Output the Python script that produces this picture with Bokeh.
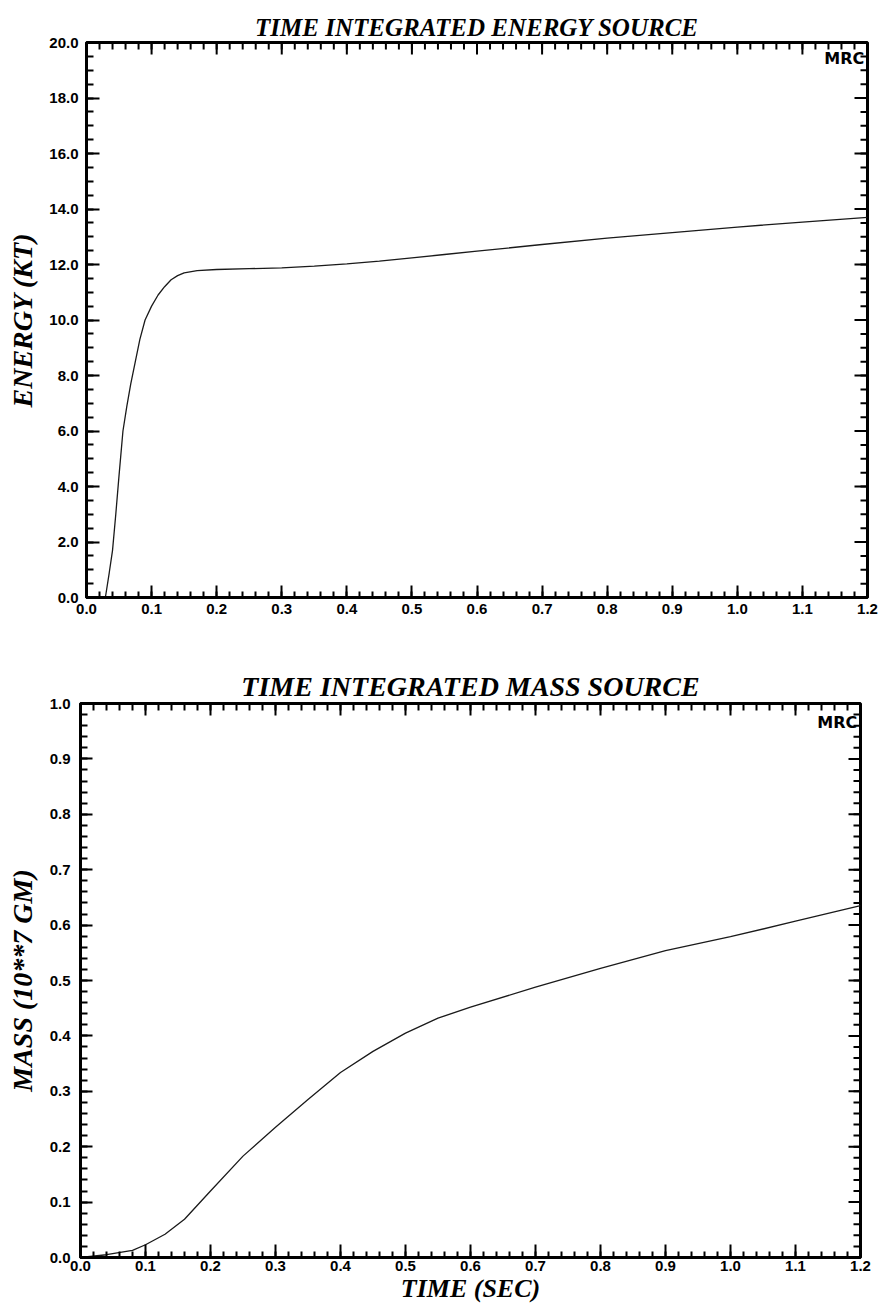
import math
from bokeh.plotting import figure
from bokeh.models import Range1d, FixedTicker, Label
from bokeh.layouts import column, row
from bokeh.embed import file_html
from bokeh.resources import INLINE

# ---------------- data ----------------
energy_time = [0.029, 0.035, 0.040, 0.045, 0.050, 0.056, 0.062, 0.068, 0.075, 0.082,
               0.090, 0.100, 0.110, 0.120, 0.130, 0.140, 0.150, 0.170, 0.200, 0.250,
               0.300, 0.350, 0.400, 0.450, 0.500, 0.550, 0.600, 0.700, 0.800, 0.900,
               1.000, 1.100, 1.200]
energy_kt = [0.0, 0.9, 1.7, 3.0, 4.4, 6.0, 6.9, 7.7, 8.5, 9.3,
             10.0, 10.5, 10.9, 11.2, 11.45, 11.6, 11.7, 11.78, 11.82, 11.85,
             11.88, 11.94, 12.02, 12.12, 12.24, 12.36, 12.48, 12.72, 12.95, 13.15,
             13.35, 13.53, 13.7]

mass_time = [0.0, 0.04, 0.08, 0.10, 0.13, 0.16, 0.20, 0.25, 0.30, 0.35, 0.40,
             0.45, 0.50, 0.55, 0.60, 0.70, 0.80, 0.90, 1.00, 1.10, 1.20]
mass_gm7 = [0.0, 0.005, 0.013, 0.023, 0.042, 0.069, 0.120, 0.183, 0.235, 0.285, 0.334,
            0.372, 0.405, 0.432, 0.452, 0.488, 0.522, 0.554, 0.579, 0.607, 0.635]

x_ticks = [0.0, 0.1, 0.2, 0.3, 0.4, 0.5, 0.6, 0.7, 0.8, 0.9, 1.0, 1.1, 1.2]
x_labels = ["0.0", "0.1", "0.2", "0.3", "0.4", "0.5", "0.6", "0.7", "0.8", "0.9", "1.0", "1.1", "1.2"]
e_ticks = [0, 2, 4, 6, 8, 10, 12, 14, 16, 18, 20]
e_labels = ["0.0", "2.0", "4.0", "6.0", "8.0", "10.0", "12.0", "14.0", "16.0", "18.0", "20.0"]
m_ticks = [0.0, 0.1, 0.2, 0.3, 0.4, 0.5, 0.6, 0.7, 0.8, 0.9, 1.0]
m_labels = ["0.0", "0.1", "0.2", "0.3", "0.4", "0.5", "0.6", "0.7", "0.8", "0.9", "1.0"]

x_minor = [round(i * 0.02, 4) for i in range(61)]
e_minor = [round(i * 0.5, 4) for i in range(41)]
m_minor = [round(i * 0.02, 4) for i in range(51)]

SERIF = "Liberation Serif"
SANS = "Liberation Sans"


def style_axis(ax, ticks, minor, labels, major_in, minor_in, standoff):
    ax.ticker = FixedTicker(ticks=ticks, minor_ticks=minor)
    ax.axis_line_width = 3
    ax.axis_line_color = "black"
    ax.major_tick_in = major_in
    ax.major_tick_out = 0
    ax.minor_tick_in = minor_in
    ax.minor_tick_out = 0
    ax.major_tick_line_width = 2
    ax.minor_tick_line_width = 2
    ax.major_tick_line_color = "black"
    ax.minor_tick_line_color = "black"
    ax.major_label_overrides = {t: l for t, l in zip(ticks, labels)}
    ax.major_label_text_font = SANS
    ax.major_label_text_font_style = "bold"
    ax.major_label_text_font_size = "15px"
    ax.major_label_text_color = "black"
    ax.major_label_standoff = standoff


def edge_ticks(p, xt, xm, yt, ym, xmax, ymax, xmaj, xmin, ymaj, ymin):
    # inward tick marks along the top and right edges of the frame
    p.ray(x=xt, y=[ymax] * len(xt), length=xmaj, length_units="screen",
          angle=-math.pi / 2, line_color="black", line_width=2)
    p.ray(x=xm, y=[ymax] * len(xm), length=xmin, length_units="screen",
          angle=-math.pi / 2, line_color="black", line_width=2)
    p.ray(x=[xmax] * len(yt), y=yt, length=ymaj, length_units="screen",
          angle=math.pi, line_color="black", line_width=2)
    p.ray(x=[xmax] * len(ym), y=ym, length=ymin, length_units="screen",
          angle=math.pi, line_color="black", line_width=2)


def make_fig(title, ymax, ylabel, fw, fh, borders, title_size, ylabel_size):
    p = figure(frame_width=fw, frame_height=fh, output_backend="svg", toolbar_location=None,
               x_range=Range1d(0, 1.2), y_range=Range1d(0, ymax),
               min_border_left=borders[0], min_border_right=borders[1],
               min_border_top=borders[2], min_border_bottom=borders[3])
    p.grid.visible = False
    p.outline_line_color = "black"
    p.outline_line_width = 3
    p.background_fill_color = "white"
    p.border_fill_color = "white"
    p.title.text = title
    p.title.align = "center"
    p.title.text_font = SERIF
    p.title.text_font_style = "bold italic"
    p.title.text_font_size = title_size
    p.title.text_color = "black"
    p.title.standoff = 4
    ly = p.left[0]
    ly.axis_label = ylabel
    ly.axis_label_text_font = SERIF
    ly.axis_label_text_font_style = "bold italic"
    ly.axis_label_text_font_size = ylabel_size
    ly.axis_label_text_color = "black"
    return p, p.below[0], ly


# ---------------- top: energy ----------------
p1, bx1, ly1 = make_fig("TIME INTEGRATED ENERGY SOURCE", 20, "ENERGY (KT)",
                        781, 555, (86, 17, 42, 24), "25px", "28px")
style_axis(bx1, x_ticks, x_minor, x_labels, 12, 6, 6)
style_axis(ly1, e_ticks, e_minor, e_labels, 13, 7, 8)
ly1.axis_label_standoff = 8
edge_ticks(p1, x_ticks, x_minor, e_ticks, e_minor, 1.2, 20, 12, 7, 13, 7)
p1.line(energy_time, energy_kt, line_color="#1a1a1a", line_width=1.3)
p1.add_layout(Label(x=1.195, y=19.42, text="MRC", text_align="right", text_baseline="middle",
                    text_font="DejaVu Sans", text_font_style="bold", text_font_size="16px",
                    text_color="black"))

# ---------------- bottom: mass ----------------
p2, bx2, ly2 = make_fig("TIME INTEGRATED MASS SOURCE", 1.0, "MASS (10**7 GM)",
                        780, 554, (80, 24, 82, 54), "28px", "28px")
style_axis(bx2, x_ticks, x_minor, x_labels, 13, 6, 3)
style_axis(ly2, m_ticks, m_minor, m_labels, 12, 7, 10)
ly2.axis_label_standoff = 9
bx2.axis_label = "TIME (SEC)"
bx2.axis_label_text_font = SERIF
bx2.axis_label_text_font_style = "bold italic"
bx2.axis_label_text_font_size = "26px"
bx2.axis_label_text_color = "black"
bx2.axis_label_standoff = 0
edge_ticks(p2, x_ticks, x_minor, m_ticks, m_minor, 1.2, 1.0, 12, 7, 12, 7)
p2.line(mass_time, mass_gm7, line_color="#1a1a1a", line_width=1.3)
p2.add_layout(Label(x=1.195, y=0.966, text="MRC", text_align="right", text_baseline="middle",
                    text_font="DejaVu Sans", text_font_style="bold", text_font_size="16px",
                    text_color="black"))

layout = column(row(p1), row(p2))
open("out.html", "w").write(file_html(layout, INLINE))
